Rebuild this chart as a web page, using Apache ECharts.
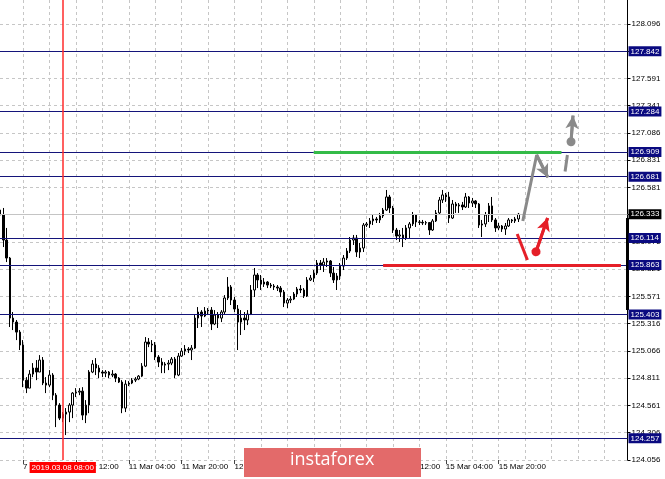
<!DOCTYPE html>
<html>
<head>
<meta charset="utf-8">
<script src="https://cdn.jsdelivr.net/npm/echarts@6/dist/echarts.min.js"></script>
<style>
html,body{margin:0;padding:0;background:#fff;}
#chart{width:665px;height:479px;}
</style>
</head>
<body>
<div id="chart"></div>
<script>
// ---------- DATA ----------
// hourly bars, [open, close, low, high]
const candles = [
[126.372,126.326,126.280,126.391],[126.326,126.094,126.029,126.391],[126.094,125.927,125.890,126.206],[125.927,125.371,125.288,125.937],
[125.371,125.334,125.260,125.427],[125.334,125.241,125.167,125.353],[125.241,125.121,125.075,125.260],[125.121,124.796,124.731,125.167],
[124.796,124.722,124.676,124.824],[124.722,124.852,124.722,124.889],[124.852,124.908,124.824,124.954],[124.908,124.871,124.796,124.982],
[124.871,124.982,124.871,125.028],[124.982,124.769,124.750,125.010],[124.769,124.750,124.676,124.824],[124.750,124.843,124.731,124.889],
[124.843,124.657,124.611,124.861],[124.657,124.565,124.361,124.676],[124.565,124.444,124.426,124.583],[124.444,124.481,124.407,124.500],
[124.481,124.500,124.287,124.537],[124.500,124.565,124.407,124.583],[124.565,124.676,124.444,124.685],[124.676,124.685,124.639,124.722],
[124.685,124.694,124.657,124.722],[124.694,124.472,124.426,124.731],[124.472,124.565,124.398,124.611],[124.565,124.871,124.490,124.889],
[124.871,124.945,124.861,124.982],[124.945,124.908,124.843,125.000],[124.908,124.871,124.815,124.935],[124.871,124.861,124.824,124.889],
[124.861,124.871,124.824,124.889],[124.871,124.843,124.815,124.880],[124.843,124.852,124.824,124.889],[124.852,124.815,124.778,124.861],
[124.815,124.778,124.769,124.824],[124.778,124.537,124.490,124.796],[124.537,124.759,124.500,124.796],[124.759,124.769,124.741,124.787],
[124.769,124.796,124.759,124.815],[124.796,124.806,124.778,124.824],[124.806,124.833,124.796,124.843],[124.833,124.926,124.824,124.954],
[124.926,125.149,124.917,125.195],[125.149,125.130,125.102,125.186],[125.130,125.121,125.056,125.167],[125.121,125.010,124.982,125.149],
[125.010,124.963,124.917,125.028],[124.963,124.935,124.861,125.000],[124.935,124.945,124.861,124.963],[124.945,124.954,124.889,124.982],
[124.954,124.991,124.935,125.010],[124.991,124.843,124.815,125.010],[124.843,125.019,124.833,125.047],[125.019,125.065,125.010,125.093],
[125.065,125.084,125.028,125.121],[125.084,125.075,125.047,125.102],[125.075,125.093,124.982,125.121],[125.093,125.371,125.084,125.399],
[125.371,125.427,125.279,125.473],[125.427,125.390,125.288,125.445],[125.390,125.436,125.380,125.473],[125.436,125.445,125.399,125.464],
[125.445,125.316,125.260,125.473],[125.316,125.399,125.306,125.445],[125.399,125.371,125.279,125.427],[125.371,125.427,125.334,125.445],
[125.427,125.557,125.408,125.584],[125.557,125.659,125.538,125.751],[125.659,125.538,125.492,125.677],[125.538,125.455,125.427,125.566],
[125.455,125.334,125.075,125.492],[125.334,125.371,125.214,125.445],[125.371,125.353,125.260,125.427],[125.353,125.408,125.306,125.445],
[125.408,125.631,125.399,125.677],[125.631,125.770,125.566,125.835],[125.770,125.724,125.649,125.788],[125.724,125.686,125.631,125.770],
[125.686,125.705,125.659,125.742],[125.705,125.677,125.649,125.714],[125.677,125.668,125.649,125.696],[125.668,125.659,125.631,125.686],
[125.659,125.649,125.622,125.677],[125.649,125.612,125.566,125.668],[125.612,125.510,125.473,125.631],[125.510,125.538,125.464,125.557],
[125.538,125.547,125.510,125.575],[125.547,125.594,125.538,125.612],[125.594,125.640,125.566,125.659],[125.640,125.631,125.603,125.677],
[125.631,125.575,125.557,125.649],[125.575,125.724,125.566,125.751],[125.724,125.742,125.714,125.770],[125.742,125.788,125.705,125.816],
[125.788,125.881,125.770,125.909],[125.881,125.863,125.816,125.909],[125.863,125.890,125.798,125.927],[125.890,125.900,125.844,125.927],
[125.900,125.788,125.751,125.909],[125.788,125.724,125.696,125.844],[125.724,125.761,125.631,125.788],[125.761,125.853,125.724,125.881],
[125.853,125.927,125.816,125.955],[125.927,125.992,125.909,126.020],[125.992,126.094,125.974,126.122],[126.094,126.113,126.048,126.141],
[126.113,125.983,125.937,126.141],[125.983,126.020,125.927,126.067],[126.020,126.233,125.983,126.252],[126.233,126.243,126.215,126.261],
[126.243,126.271,126.206,126.298],[126.271,126.289,126.233,126.326],[126.289,126.280,126.252,126.308],[126.280,126.317,126.252,126.345],
[126.317,126.372,126.298,126.391],[126.372,126.493,126.363,126.558],[126.493,126.391,126.345,126.512],[126.391,126.187,126.159,126.410],
[126.187,126.131,126.094,126.206],[126.131,126.141,126.076,126.187],[126.141,126.113,126.029,126.206],[126.113,126.206,126.094,126.233],
[126.206,126.243,126.113,126.261],[126.243,126.326,126.224,126.354],[126.326,126.261,126.215,126.335],[126.261,126.258,126.233,126.280],
[126.258,126.252,126.233,126.280],[126.252,126.256,126.233,126.271],[126.256,126.187,126.141,126.261],[126.187,126.271,126.178,126.289],
[126.271,126.345,126.261,126.372],[126.345,126.465,126.335,126.493],[126.465,126.512,126.437,126.558],[126.512,126.493,126.447,126.530],
[126.493,126.298,126.252,126.540],[126.298,126.428,126.289,126.465],[126.428,126.410,126.345,126.447],[126.410,126.419,126.345,126.437],
[126.419,126.400,126.372,126.447],[126.400,126.493,126.391,126.530],[126.493,126.437,126.391,126.502],[126.437,126.456,126.400,126.484],
[126.456,126.428,126.391,126.465],[126.428,126.233,126.206,126.437],[126.233,126.243,126.122,126.280],[126.243,126.326,126.215,126.354],
[126.326,126.410,126.261,126.437],[126.410,126.280,126.261,126.493],[126.280,126.206,126.169,126.298],[126.206,126.224,126.187,126.252],
[126.224,126.196,126.169,126.233],[126.196,126.224,126.141,126.252],[126.224,126.280,126.215,126.298],[126.280,126.271,126.252,126.289],
[126.271,126.289,126.252,126.308],[126.289,126.333,126.261,126.345]
];

// time axis: hourly bars from 2019-03-07 13:00, weekends skipped
const firstBarUTC = Date.UTC(2019, 2, 7, 13);
const slotCount = 191;            // bars + empty right margin
const monthNames = ['Jan','Feb','Mar','Apr','May','Jun','Jul','Aug','Sep','Oct','Nov','Dec'];
const categories = [];
for (let t = firstBarUTC; categories.length < slotCount; t += 3600000) {
  const d = new Date(t), wd = d.getUTCDay();
  if (wd === 0 || wd === 6) continue;
  categories.push(d.getUTCDate() + ' ' + monthNames[d.getUTCMonth()] + ' ' + String(d.getUTCHours()).padStart(2,'0') + ':00');
}

// price scale tick labels (one per grid step)
const priceTickLabels = ['124.056','124.306','124.561','124.811','125.066','125.316','125.571','125.821',
  '126.076','126.326','126.581','126.831','127.086','127.341','127.591','127.841','128.096'];
const priceBottom = 124.056, priceTop = 128.318, priceStep = 0.2525;

// horizontal levels
const levels = [127.842, 127.284, 126.909, 126.681, 126.114, 125.863, 125.403, 124.257];
const lastPrice = 126.333;
const markerIndex = 19, markerLabel = '2019.03.08 08:00';
const greenSegment = {from: 95, to: 170, price: 126.909};
const redSegment = {from: 116, to: 188, price: 125.863};
const rangeBar = {at: 190, high: 126.298, low: 125.446};

// forecast arrows (x in bar units, y in price)
const grayPath = [[158.3,126.271],[162.5,126.882],[165.9,126.674]];
const grayDash = [[171.1,126.729],[171.8,126.882]];
const grayUp   = [[172.9,127.005],[173.5,127.246]];
const redStroke = [[156.6,126.150],[159.7,125.909]];
const redUp    = [[162.3,125.986],[165.8,126.298]];

// ---------- CHART ----------
const FONT = 'Liberation Sans';
const NAVY = '#14147a';
const lastBar = candles.length - 1;
const stepMax = (priceTop - priceBottom) / priceStep;
const chart = echarts.init(document.getElementById('chart'), null, {renderer: 'canvas'});

const boxLabel = (bg) => ({
  show: true, position: 'end', distance: 1,
  formatter: p => Number(p.value).toFixed(3),
  color: '#fff', backgroundColor: bg, fontFamily: FONT, fontSize: 8,
  lineHeight: 9, padding: [1, 2, 0, 2]
});

const markData = [];
levels.forEach(v => markData.push({yAxis: v, lineStyle: {color: NAVY, width: 1, type: 'solid'}, label: boxLabel('#0a0a80')}));
markData.push({yAxis: lastPrice, lineStyle: {color: '#c4c4c4', width: 1, type: 'solid'}, label: boxLabel('#000')});
markData.push({xAxis: categories[markerIndex], lineStyle: {color: '#ff2b2b', width: 1.5, type: 'solid'},
  label: {show: true, position: 'start', distance: 2, formatter: markerLabel, color: '#fff', backgroundColor: '#f00',
    fontFamily: FONT, fontSize: 8, lineHeight: 10, padding: [1, 2, 0, 2]}});
markData.push([{coord: [greenSegment.from, greenSegment.price], lineStyle: {color: '#34bb48', width: 3, type: 'solid'}, label: {show: false}},
               {coord: [greenSegment.to, greenSegment.price]}]);
markData.push([{coord: [redSegment.from, redSegment.price], lineStyle: {color: '#e51f28', width: 3, type: 'solid'}, label: {show: false}},
               {coord: [redSegment.to, redSegment.price]}]);
markData.push([{coord: [rangeBar.at, rangeBar.high], lineStyle: {color: '#000', width: 3, type: 'solid'}, label: {show: false}},
               {coord: [rangeBar.at, rangeBar.low]}]);

function pathSeries(pts, color, head, dot) {
  const s = {
    type: 'line', xAxisIndex: 1, yAxisIndex: 0, data: pts, symbol: 'none', showSymbol: false,
    lineStyle: {color: color, width: 3}, z: 6, silent: true, animation: false
  };
  if (head || dot) {
    const a = pts[pts.length - 2], b = pts[pts.length - 1];
    s.markLine = {
      silent: true, animation: false, precision: 3,
      lineStyle: {color: color, width: 3, type: 'solid'}, label: {show: false},
      data: [[{coord: a, symbol: dot ? 'circle' : 'none', symbolSize: 9},
              {coord: b, symbol: head ? 'arrow' : 'none', symbolSize: [10, 13]}]]
    };
  }
  return s;
}

const option = {
  animation: false,
  grid: {left: 0, right: 37.5, top: 0, bottom: 19, containLabel: false},
  xAxis: [{
    type: 'category', data: categories, boundaryGap: false,
    axisLine: {show: false},
    axisTick: {show: true, length: 4, lineStyle: {color: '#444'}, interval: (i) => (i - 7) % 16 === 0 && i <= lastBar},
    axisLabel: {show: true, interval: (i) => (i - 7) % 16 === 0 && i <= lastBar, align: 'left', margin: 3,
      color: '#000', fontFamily: FONT, fontSize: 8},
    splitLine: {show: true, interval: (i) => (i - 7) % 8 === 0, lineStyle: {color: '#c6c6c6', type: [3, 3], width: 1}}
  }, {
    type: 'value', min: 0, max: slotCount - 1, show: false
  }],
  yAxis: [{
    type: 'value', min: priceBottom, max: priceTop, show: false, scale: true
  }, {
    type: 'value', min: 0, max: stepMax, interval: 1, position: 'right',
    axisLine: {show: true, lineStyle: {color: '#000', width: 1}},
    axisTick: {show: true, length: 3, lineStyle: {color: '#000'}},
    axisLabel: {show: true, margin: 4, color: '#000', fontFamily: FONT, fontSize: 8, showMaxLabel: false,
      formatter: v => priceTickLabels[v] || ''},
    splitLine: {show: true, showMaxLine: false, lineStyle: {color: '#c6c6c6', type: [3, 3], width: 1}}
  }],
  series: [{
    type: 'candlestick', xAxisIndex: 0, yAxisIndex: 0, data: candles, barWidth: 2,
    itemStyle: {color: '#fff', color0: '#000', borderColor: '#000', borderColor0: '#000', borderWidth: 1},
    markLine: {silent: true, animation: false, symbol: 'none', precision: 3, data: markData}
  },
    pathSeries(grayPath, '#8a8a8a', true, false),
    pathSeries(grayDash, '#8a8a8a', false, false),
    pathSeries(grayUp, '#8a8a8a', true, true),
    pathSeries(redStroke, '#e51f28', false, false),
    pathSeries(redUp, '#e51f28', true, true)
  ],
  graphic: [
    {type: 'rect', left: 244, top: 448, zlevel: 1, z: 100, silent: true,
      shape: {width: 177, height: 29}, style: {fill: '#e36a6a'}},
    {type: 'text', left: 290, top: 451, zlevel: 1, z: 101, silent: true,
      style: {text: 'instaforex', fill: '#fff', font: '18px "Open Sans"'}}
  ]
};
chart.setOption(option);
</script>
</body>
</html>
